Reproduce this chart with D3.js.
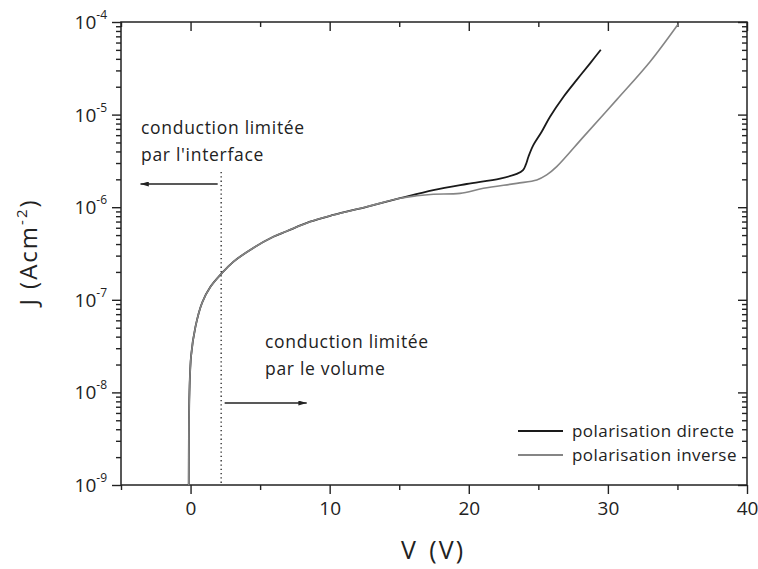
<!DOCTYPE html>
<html><head><meta charset="utf-8">
<script src="https://cdn.jsdelivr.net/npm/d3@7"></script>
<style>
body{margin:0;background:#fff}
svg{display:block}
text{font-family:"Open Sans", "DejaVu Sans", sans-serif;fill:#222}
</style>
</head><body>
<svg id="chart" width="758" height="569"></svg>
<script>
// ---- data ----
const vDirecte = [-0.13, -0.12, -0.08, 0.04, 0.35, 0.83, 1.43, 2.27, 3.07, 4.51, 5.95, 6.91, 8.59, 10.26, 12.66, 15.06, 17.45, 19.85, 22.25, 23.45, 23.9, 24.1, 24.3, 24.64, 25.24, 25.84, 26.8, 27.76, 28.72, 29.49];
const jDirecte = [1.0e-9, 3.2e-9, 1.0e-8, 2.5e-8, 5.1e-8, 9.3e-8, 1.38e-7, 1.95e-7, 2.57e-7, 3.63e-7, 4.79e-7, 5.5e-7, 6.97e-7, 8.24e-7, 1.01e-6, 1.25e-6, 1.53e-6, 1.78e-6, 2.04e-6, 2.29e-6, 2.51e-6, 2.88e-6, 3.55e-6, 4.68e-6, 6.53e-6, 9.48e-6, 1.55e-5, 2.37e-5, 3.58e-5, 5.01e-5];
const vInverse = [-0.13, -0.12, -0.08, 0.04, 0.35, 0.83, 1.43, 2.27, 3.07, 4.51, 5.95, 6.91, 8.59, 10.26, 12.66, 15.06, 16.26, 17.45, 19.37, 21.05, 23.45, 24.89, 25.6, 26.32, 28.24, 30.64, 33.03, 35.02];
const jInverse = [1.0e-9, 3.2e-9, 1.0e-8, 2.5e-8, 5.1e-8, 9.3e-8, 1.38e-7, 1.95e-7, 2.57e-7, 3.63e-7, 4.79e-7, 5.5e-7, 6.97e-7, 8.24e-7, 1.01e-6, 1.25e-6, 1.33e-6, 1.38e-6, 1.41e-6, 1.6e-6, 1.81e-6, 1.97e-6, 2.23e-6, 2.74e-6, 5.75e-6, 1.45e-5, 3.72e-5, 9.33e-5];
const seriesNames = ["polarisation directe", "polarisation inverse"];
const seriesColors = ["#1a1a1a", "#858585"];
const xMajorTicks = [0, 10, 20, 30, 40];
const xMinorTicks = [-5, 5, 15, 25, 35];
const yMajorExps = [-9, -8, -7, -6, -5, -4];
const annotInterface = ["conduction limitée", "par l'interface"];
const annotVolume = ["conduction limitée", "par le volume"];
const boundaryV = 2.2;
const xTitle = "V (V)";

// ---- layout ----
const svg = d3.select("#chart");
const L = 121, R = 747, T = 22, B = 485;
const x = d3.scaleLinear().domain([-5, 40]).range([L, R]);
const y = d3.scaleLog().domain([1e-9, 1e-4]).range([B, T]);

const yMajor = yMajorExps.map(e => Math.pow(10, e));
const yMinor = [];
yMajorExps.slice(0, -1).forEach(e => { for (let k = 2; k <= 9; k++) yMinor.push(k * Math.pow(10, e)); });

function styleAxis(g) {
  g.select(".domain").remove();
  g.selectAll("line").attr("stroke", "#222").attr("stroke-width", 1.4);
}

// bottom axis (outward)
svg.append("g").attr("transform", `translate(0,${B})`)
  .call(d3.axisBottom(x).tickValues(xMinorTicks).tickSize(5).tickFormat("")).call(styleAxis);
const bx = svg.append("g").attr("transform", `translate(0,${B})`)
  .call(d3.axisBottom(x).tickValues(xMajorTicks).tickSize(9).tickPadding(8).tickFormat(d3.format("d"))).call(styleAxis);
bx.selectAll("text").attr("font-size", 19).style("font-family", "'Open Sans', sans-serif").attr("fill", "#222");

// top axis (inward)
svg.append("g").attr("transform", `translate(0,${T})`)
  .call(d3.axisBottom(x).tickValues(xMajorTicks).tickSize(9).tickFormat("")).call(styleAxis);
svg.append("g").attr("transform", `translate(0,${T})`)
  .call(d3.axisBottom(x).tickValues(xMinorTicks).tickSize(5).tickFormat("")).call(styleAxis);

// left axis (outward)
svg.append("g").attr("transform", `translate(${L},0)`)
  .call(d3.axisLeft(y).tickValues(yMinor).tickSize(5).tickFormat("")).call(styleAxis);
svg.append("g").attr("transform", `translate(${L},0)`)
  .call(d3.axisLeft(y).tickValues(yMajor).tickSize(9).tickFormat("")).call(styleAxis);

// right axis (inward)
svg.append("g").attr("transform", `translate(${R},0)`)
  .call(d3.axisLeft(y).tickValues(yMinor).tickSize(5).tickFormat("")).call(styleAxis);
svg.append("g").attr("transform", `translate(${R},0)`)
  .call(d3.axisLeft(y).tickValues(yMajor).tickSize(9).tickFormat("")).call(styleAxis);

// y tick labels 10^n
yMajorExps.forEach(e => {
  const t = svg.append("text").attr("x", 107).attr("y", y(Math.pow(10, e)) + 7)
    .attr("text-anchor", "end").attr("font-size", 19);
  t.append("tspan").text("10");
  t.append("tspan").attr("font-size", 12).attr("dy", -10).text(e);
});

// frame
svg.append("rect").attr("x", L).attr("y", T).attr("width", R - L).attr("height", B - T)
  .attr("fill", "none").attr("stroke", "#222").attr("stroke-width", 1.5);

// curves
svg.append("clipPath").attr("id", "clip").append("rect")
  .attr("x", L).attr("y", T).attr("width", R - L).attr("height", B - T);
const line = d3.line().x(d => x(d[0])).y(d => y(d[1])).curve(d3.curveCatmullRom.alpha(0.5));
const dDir = vDirecte.map((v, i) => [v, jDirecte[i]]);
const dInv = vInverse.map((v, i) => [v, jInverse[i]]);
svg.append("path").attr("d", line(dDir)).attr("fill", "none").attr("stroke", seriesColors[0]).attr("stroke-width", 1.8).attr("clip-path", "url(#clip)");
svg.append("path").attr("d", line(dInv)).attr("fill", "none").attr("stroke", seriesColors[1]).attr("stroke-width", 1.6).attr("clip-path", "url(#clip)");

// boundary dotted line
svg.append("line").attr("x1", x(boundaryV)).attr("x2", x(boundaryV))
  .attr("y1", 172).attr("y2", B).attr("stroke", "#222").attr("stroke-width", 1.3).attr("stroke-dasharray", "1.3,3");

// arrows
const defs = svg.append("defs");
defs.append("marker").attr("id", "ah").attr("viewBox", "0 0 10 6").attr("refX", 10).attr("refY", 3)
  .attr("markerWidth", 13).attr("markerHeight", 5).attr("markerUnits", "userSpaceOnUse").attr("orient", "auto")
  .append("path").attr("d", "M0,0 L10,3 L0,6 Z").attr("fill", "#222");
svg.append("line").attr("x1", x(1.95)).attr("x2", x(-3.6)).attr("y1", 184).attr("y2", 184)
  .attr("stroke", "#222").attr("stroke-width", 1.3).attr("marker-end", "url(#ah)");
svg.append("line").attr("x1", x(2.45)).attr("x2", x(8.35)).attr("y1", 403).attr("y2", 403)
  .attr("stroke", "#222").attr("stroke-width", 1.3).attr("marker-end", "url(#ah)");

// annotations
annotInterface.forEach((s, i) => svg.append("text").attr("x", 141).attr("y", 134 + i * 27)
  .attr("font-size", 17.5).attr("letter-spacing", 0.7).text(s));
annotVolume.forEach((s, i) => svg.append("text").attr("x", 265).attr("y", 348 + i * 27)
  .attr("font-size", 17.5).attr("letter-spacing", 0.7).text(s));

// legend
seriesNames.forEach((s, i) => {
  const yy = 431 + i * 24;
  svg.append("line").attr("x1", 518).attr("x2", 563).attr("y1", yy).attr("y2", yy)
    .attr("stroke", seriesColors[i]).attr("stroke-width", 1.8);
  svg.append("text").attr("x", 572).attr("y", yy + 6).attr("font-size", 17)
    .attr("letter-spacing", 0.45).text(s);
});

// axis titles
svg.append("text").attr("x", 433).attr("y", 559).attr("text-anchor", "middle").attr("font-size", 25)
  .attr("letter-spacing", 2).attr("word-spacing", 3).text(xTitle);
const yt = svg.append("text").attr("transform", "translate(37,252) rotate(-90)").attr("text-anchor", "middle").attr("font-size", 24)
  .attr("letter-spacing", 2);
yt.append("tspan").text("J (Acm");
yt.append("tspan").attr("font-size", 15).attr("dy", -10).text("-2");
yt.append("tspan").attr("dy", 10).text(")");
</script>
</body></html>
